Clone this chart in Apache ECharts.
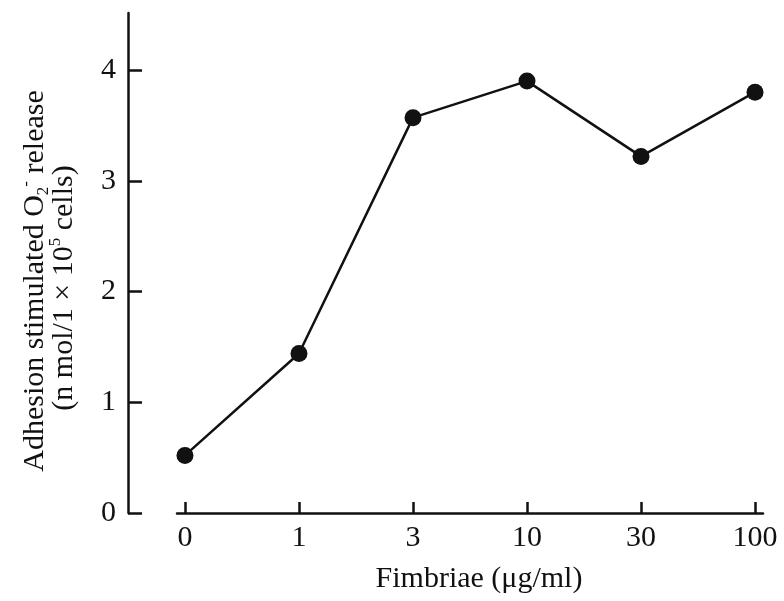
<!DOCTYPE html>
<html>
<head>
<meta charset="utf-8">
<script src="https://cdn.jsdelivr.net/npm/echarts@6/dist/echarts.min.js"></script>
<style>
  html, body { margin: 0; padding: 0; background: #fff; }
  #chart { width: 784px; height: 601px; }
</style>
</head>
<body>
<div id="chart"></div>
<script>
// fimbriae dose (category labels) and O2- release
var doses = ["0", "1", "3", "10", "30", "100"];
var release = [0.52, 1.44, 3.57, 3.90, 3.22, 3.80];
var yTicks = [0, 1, 2, 3, 4];

var ink = "#111";
var serif = "'Liberation Serif', 'DejaVu Serif', serif";

var chart = echarts.init(document.getElementById("chart"));

var points = release.map(function (v, i) { return [i, v]; });
var xTicks = doses.map(function (d, i) { return i; });

chart.setOption({
  animation: false,
  grid: { left: 177, right: 21, top: 13, bottom: 88 },
  xAxis: {
    type: "value",
    min: -0.07,
    max: 5.07,
    axisLine: { onZero: false, lineStyle: { color: ink, width: 2.5 } },
    axisTick: { inside: true, length: 11, customValues: xTicks, lineStyle: { color: ink, width: 2.5 } },
    axisLabel: {
      customValues: xTicks,
      margin: 10,
      color: ink,
      fontFamily: serif,
      fontSize: 30,
      formatter: function (v) { return doses[v]; }
    },
    splitLine: { show: false }
  },
  yAxis: {
    type: "value",
    min: 0,
    max: 4.515,
    offset: 49,
    axisLine: { show: true, onZero: false, lineStyle: { color: ink, width: 2.5 } },
    axisTick: { show: true, inside: true, length: 14, customValues: yTicks, lineStyle: { color: ink, width: 2.5 } },
    axisLabel: {
      customValues: yTicks,
      margin: 12,
      color: ink,
      fontFamily: serif,
      fontSize: 30
    },
    splitLine: { show: false }
  },
  graphic: [
    {
      type: "text",
      x: 35, y: 281,
      rotation: Math.PI / 2,
      style: {
        text: "Adhesion stimulated O{sub|2}{sup|-} release",
        align: "center",
        verticalAlign: "middle",
        fontFamily: serif,
        fontSize: 30,
        fill: ink,
        rich: {
          sub: { fontSize: 17, fontFamily: serif, verticalAlign: "bottom", lineHeight: 34 },
          sup: { fontSize: 17, fontFamily: serif, verticalAlign: "top", lineHeight: 34 }
        }
      }
    },
    {
      type: "text",
      x: 64, y: 288,
      rotation: Math.PI / 2,
      style: {
        text: "(n mol/1 \u00d7 10{sup|5} cells)",
        align: "center",
        verticalAlign: "middle",
        fontFamily: serif,
        fontSize: 30,
        fill: ink,
        rich: {
          sup: { fontSize: 17, fontFamily: serif, verticalAlign: "top", lineHeight: 34 }
        }
      }
    },
    {
      type: "text",
      x: 479, y: 579,
      style: {
        text: "Fimbriae (\u03bcg/ml)",
        align: "center",
        verticalAlign: "middle",
        fontFamily: serif,
        fontSize: 30,
        fill: ink
      }
    }
  ],
  series: [
    {
      type: "line",
      data: points,
      symbol: "circle",
      symbolSize: 17,
      itemStyle: { color: ink },
      lineStyle: { color: ink, width: 2.5 }
    }
  ]
});
</script>
</body>
</html>
